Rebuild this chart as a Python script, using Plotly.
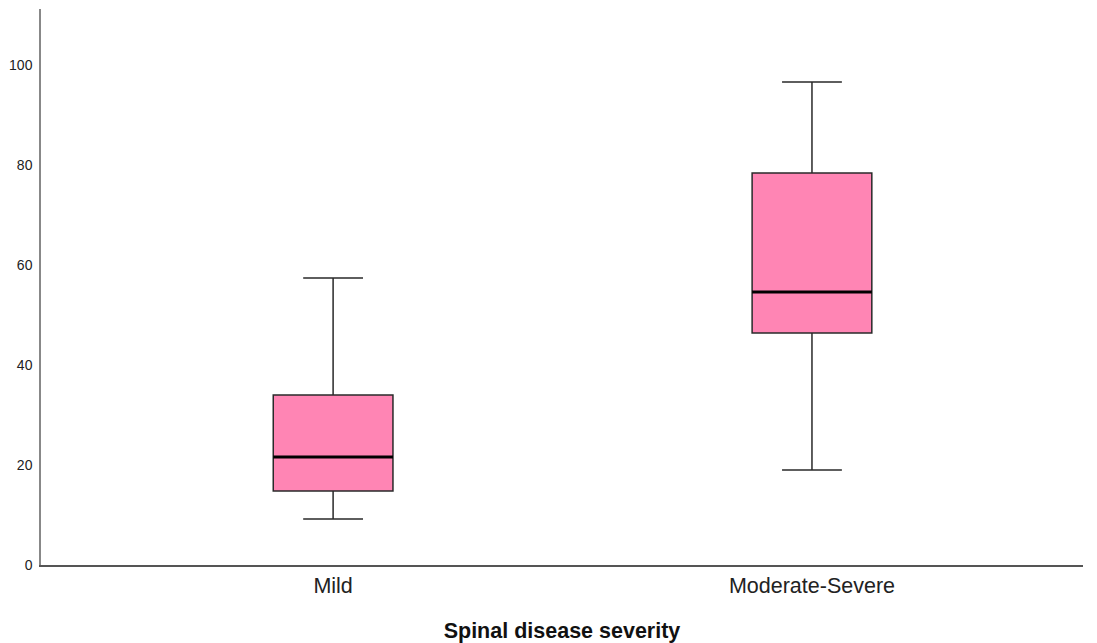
import plotly.graph_objects as go

categories = ["Mild", "Moderate-Severe"]
lower_whisker = [9.2, 19.0]
q1 = [14.8, 46.4]
median = [21.6, 54.6]
q3 = [34.0, 78.4]
upper_whisker = [57.4, 96.6]
y_ticks = [0, 20, 40, 60, 80, 100]

xpos = list(range(len(categories)))
box_width = 0.25

fig = go.Figure()
fig.add_trace(go.Box(
    x=xpos, q1=q1, median=median, q3=q3,
    lowerfence=lower_whisker, upperfence=upper_whisker,
    width=box_width, whiskerwidth=0.5,
    fillcolor="#FF85B4",
    line=dict(color="#2a2a2a", width=1.5),
    boxpoints=False, showlegend=False, hoverinfo="skip",
))
for xi, m in zip(xpos, median):
    fig.add_trace(go.Scatter(
        x=[xi - box_width / 2, xi + box_width / 2], y=[m, m],
        mode="lines", line=dict(color="black", width=3),
        showlegend=False, hoverinfo="skip",
    ))

fig.update_layout(
    width=1097, height=643,
    margin=dict(l=33, r=22, t=1, b=86),
    paper_bgcolor="white", plot_bgcolor="white",
    font=dict(family="Liberation Sans, Arial, sans-serif", color="#222222"),
    xaxis=dict(
        range=[-0.61, 1.566], tickvals=xpos, ticktext=categories,
        showgrid=False, zeroline=False, showline=True,
        linecolor="#555555", linewidth=1.5, ticks="",
        tickfont=dict(size=21.5, color="#222222"),
        ticklabelstandoff=0, automargin=False,
        title=dict(text="<b>Spinal disease severity</b>", font=dict(size=21.5, color="#111111"), standoff=26),
    ),
    yaxis=dict(
        range=[0, 111.2], tickvals=y_ticks,
        showgrid=False, zeroline=False, showline=True,
        linecolor="#888888", linewidth=1.5, ticks="",
        tickfont=dict(size=14, color="#222222"),
        ticklabelstandoff=4, automargin=False,
    ),
)

fig.write_html("out.html")
